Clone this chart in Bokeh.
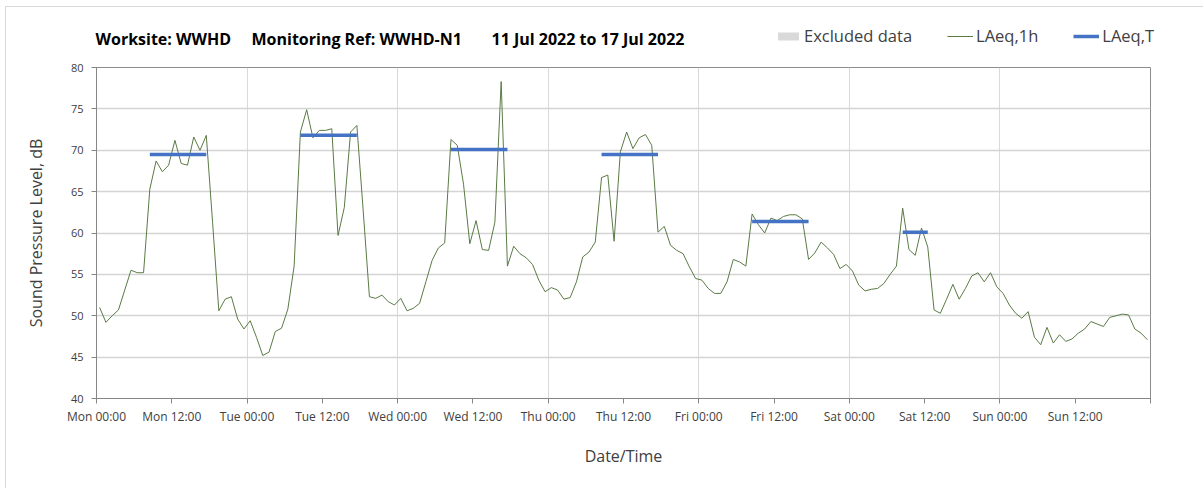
from bokeh.plotting import figure
from bokeh.models import Range1d, FixedTicker, Legend, LegendItem, Label
from bokeh.layouts import column
from bokeh.embed import file_html
from bokeh.resources import INLINE

# ---------------- data ----------------
day_names = ["Mon", "Tue", "Wed", "Thu", "Fri", "Sat", "Sun"]
tick_hours = list(range(0, 169, 12))
tick_labels = [f"{d} {h}" for d in day_names for h in ("00:00", "12:00")] + [""]

# hourly LAeq,1h values, Mon 00:00 -> Sun 23:00 (plotted at mid-hour)
laeq_1h = [
    51.0, 49.2, 50.0, 50.7, 53.1, 55.5, 55.2, 55.2, 65.3, 68.7, 67.4, 68.2,
    71.2, 68.4, 68.2, 71.6, 70.0, 71.8, 61.3, 50.6, 52.0, 52.3, 49.6, 48.4,
    49.4, 47.4, 45.2, 45.6, 48.1, 48.5, 50.8, 56.0, 72.2, 74.9, 71.5, 72.4,
    72.4, 72.6, 59.7, 63.1, 72.2, 73.0, 62.8, 52.3, 52.1, 52.5, 51.7, 51.3,
    52.1, 50.6, 50.9, 51.5, 54.1, 56.7, 58.2, 58.8, 71.3, 70.6, 65.9, 58.7,
    61.5, 58.0, 57.9, 61.3, 78.3, 56.0, 58.4, 57.5, 57.0, 56.2, 54.3, 52.9,
    53.4, 53.1, 52.0, 52.2, 54.1, 57.1, 57.7, 58.9, 66.7, 67.0, 59.0, 69.8,
    72.2, 70.2, 71.5, 71.9, 70.6, 60.1, 60.8, 58.5, 57.9, 57.5, 55.9, 54.5,
    54.3, 53.3, 52.7, 52.7, 54.1, 56.8, 56.5, 56.0, 62.3, 61.0, 60.0, 61.8,
    61.5, 62.0, 62.2, 62.2, 61.7, 56.8, 57.6, 58.9, 58.2, 57.4, 55.7, 56.2,
    55.4, 53.7, 53.0, 53.2, 53.3, 53.9, 55.0, 56.0, 63.0, 58.0, 57.3, 60.6,
    58.3, 50.7, 50.3, 52.0, 53.8, 52.0, 53.3, 54.8, 55.2, 54.1, 55.2, 53.5,
    52.7, 51.3, 50.3, 49.7, 50.5, 47.4, 46.5, 48.6, 46.7, 47.7, 46.9, 47.2,
    47.9, 48.4, 49.3, 49.0, 48.7, 49.8, 50.0, 50.2, 50.1, 48.4, 47.9, 47.1,
]
hours = [i + 0.5 for i in range(len(laeq_1h))]

# LAeq,T daytime periods (hours from Mon 00:00)
period_start = [8.5, 32.5, 56.5, 80.5, 104.5, 128.5]
period_end = [17.5, 41.5, 65.5, 89.5, 113.5, 132.5]
laeq_t = [69.5, 71.8, 70.1, 69.5, 61.4, 60.1]

title_parts = ["Worksite: WWHD", "Monitoring Ref: WWHD-N1", "11 Jul 2022 to 17 Jul 2022"]
legend_labels = ["Excluded data", "LAeq,1h", "LAeq,T"]

FONT = "Open Sans"
TXT = "#404040"
C_LINE = "#5a7a45"
C_T = "#4472c4"
C_EXCL = "#d9d9d9"
C_BORDER = "#dadada"

W = 1203
HDR_H = 60
NAN = float("nan")

# ---------------- header (title + legend) ----------------
hdr = figure(width=W, height=HDR_H, output_backend="svg", toolbar_location=None,
             x_range=Range1d(0, W), y_range=Range1d(HDR_H, 0),
             x_axis_location=None, y_axis_location=None,
             min_border=0)
hdr.frame_align = False
hdr.grid.visible = False
hdr.outline_line_color = None
hdr.background_fill_alpha = 0
hdr.border_fill_alpha = 0

title_x = [95, 251, 491]
for txt, xp in zip(title_parts, title_x):
    hdr.add_layout(Label(x=xp, y=38, text=txt, text_font=FONT, text_font_style="bold",
                         text_font_size="16px", text_color="black",
                         text_baseline="middle", text_align="left"))

# legend proxies (no visible data)
excl_h = hdr.quad(left=[NAN], right=[NAN], top=[NAN], bottom=[NAN],
                  fill_color=C_EXCL, line_color=None)
line_h = hdr.line([NAN], [NAN], line_color=C_LINE, line_width=1)
seg_h = hdr.segment(x0=[NAN], x1=[NAN], y0=[NAN], y1=[NAN], line_color=C_T, line_width=3.5)

legend = Legend(items=[LegendItem(label=legend_labels[0], renderers=[excl_h]),
                       LegendItem(label=legend_labels[1], renderers=[line_h]),
                       LegendItem(label=legend_labels[2], renderers=[seg_h])],
                orientation="horizontal", location=(775, HDR_H - 47),
                glyph_width=26, glyph_height=10, label_height=10,
                label_standoff=3, spacing=35, padding=0, margin=0,
                label_text_font=FONT, label_text_font_size="16.5px",
                label_text_color=TXT, label_text_baseline="middle",
                background_fill_alpha=0, border_line_alpha=0)
hdr.add_layout(legend, "center")

# ---------------- main chart ----------------
p = figure(width=W, height=488 - HDR_H, output_backend="svg", toolbar_location=None,
           x_range=Range1d(0, 168), y_range=Range1d(40, 80),
           min_border_left=96, min_border_right=53, min_border_top=67 - HDR_H,
           min_border_bottom=90)
p.frame_align = False

p.background_fill_color = "white"
p.border_fill_alpha = 0
p.outline_line_color = "#8c8c8c"
p.outline_line_width = 1

p.xaxis.ticker = FixedTicker(ticks=tick_hours)
p.xaxis.major_label_overrides = {h: lab for h, lab in zip(tick_hours, tick_labels)}
p.yaxis.ticker = FixedTicker(ticks=list(range(40, 81, 5)))
for ax in (p.xaxis[0], p.yaxis[0]):
    ax.axis_line_color = "#868686"
    ax.major_tick_line_color = "#868686"
    ax.major_tick_out = 5
    ax.major_tick_in = 0
    ax.minor_tick_line_color = None
    ax.major_label_text_font = FONT
    ax.major_label_text_color = TXT
    ax.axis_label_text_font = FONT
    ax.axis_label_text_font_style = "normal"
    ax.axis_label_text_color = TXT
    ax.axis_label_text_font_size = "16px"
p.xaxis.major_label_text_font_size = "12px"
p.yaxis.major_label_text_font_size = "11px"
p.xaxis.major_label_standoff = 4
p.yaxis.major_label_standoff = 8
p.xaxis.axis_label = "Date/Time"
p.yaxis.axis_label = "Sound Pressure Level, dB"
p.xaxis.axis_label_standoff = 17
p.yaxis.axis_label_standoff = 21

p.xgrid.ticker = FixedTicker(ticks=tick_hours[2:-1:2])
p.xgrid.grid_line_color = "#d9d9d9"
p.xgrid.grid_line_width = 1
p.ygrid.ticker = FixedTicker(ticks=list(range(45, 80, 5)))
p.ygrid.grid_line_color = "#d4d4d4"
p.ygrid.grid_line_width = 1.5

p.line(hours, laeq_1h, line_color=C_LINE, line_width=1)
p.segment(x0=period_start, x1=period_end, y0=laeq_t, y1=laeq_t,
          line_color=C_T, line_width=3.5)

# outer chart-area border (top and left edges) drawn as a page background
bg = (f"linear-gradient({C_BORDER},{C_BORDER}) 5px 6px / 1px calc(100% - 6px) no-repeat, "
      f"linear-gradient({C_BORDER},{C_BORDER}) 5px 6px / calc(100% - 5px) 1px no-repeat, white")
layout = column(hdr, p, spacing=0, styles={"background": bg})
open("out.html", "w").write(file_html(layout, INLINE))
